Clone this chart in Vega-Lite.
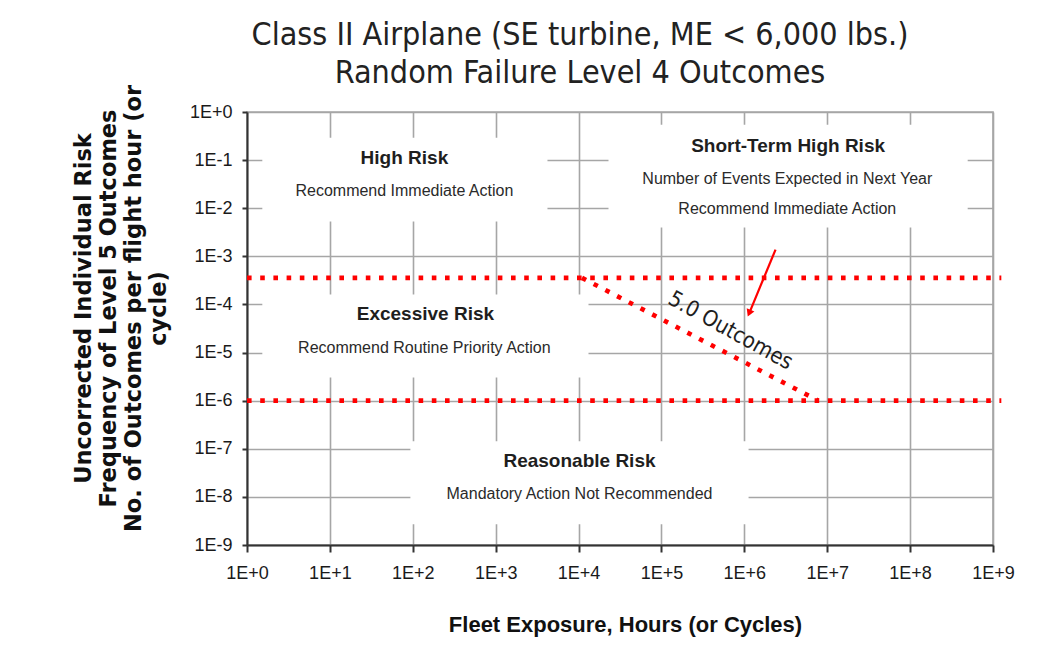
{
  "$schema": "https://vega.github.io/schema/vega-lite/v6.json",
  "width": 746,
  "height": 433,
  "autosize": "none",
  "padding": {"left": 247, "top": 112, "right": 68, "bottom": 100},
  "background": "white",
  "config": {
    "font": "Liberation Sans",
    "view": {"stroke": "#a6a6a6", "strokeWidth": 1.6}
  },
  "title": {
    "text": ["Class II Airplane (SE turbine, ME < 6,000 lbs.)", "Random Failure Level 4 Outcomes"],
    "font": "DejaVu Sans Condensed",
    "fontSize": 32,
    "fontWeight": "normal",
    "color": "#222222",
    "anchor": "middle",
    "dx": -40,
    "lineHeight": 38,
    "offset": -9
  },
  "datasets": {
    "boxes": [
      {"x": 1.53, "x2": 4217, "y": 0.292, "y2": 0.00527},
      {"x": 22970, "x2": 495000000, "y": 0.545, "y2": 0.00396},
      {"x": 1.53, "x2": 13180, "y": 0.000161, "y2": 0.00000304},
      {"x": 93.6, "x2": 1125000, "y": 0.000000143, "y2": 0.0000000027}
    ],
    "redLines": [
      {"x": 1, "x2": 1260000000, "y": 0.000357, "y2": 0.000357},
      {"x": 1, "x2": 1260000000, "y": 0.000001, "y2": 0.000001},
      {"x": 11000, "x2": 7800000, "y": 0.000357, "y2": 0.000001}
    ],
    "arrowShaft": [
      {"x": 2380000, "x2": 1170000, "y": 0.00138, "y2": 0.000072}
    ],
    "arrowHead": [
      {"x": 1158000, "y": 0.0000697}
    ],
    "boldText": [
      {"x": 79.2, "y": 0.0845, "t": "High Risk"},
      {"x": 3370000, "y": 0.145, "t": "Short-Term High Risk"},
      {"x": 142, "y": 0.0000471, "t": "Excessive Risk"},
      {"x": 10260, "y": 0.0000000426, "t": "Reasonable Risk"}
    ],
    "regularText": [
      {"x": 79.2, "y": 0.0177, "t": "Recommend Immediate Action"},
      {"x": 3300000, "y": 0.0325, "t": "Number of Events Expected in Next Year"},
      {"x": 3300000, "y": 0.00773, "t": "Recommend Immediate Action"},
      {"x": 138, "y": 0.00001, "t": "Recommend Routine Priority Action"},
      {"x": 10260, "y": 0.0000000092, "t": "Mandatory Action Not Recommended"}
    ],
    "curveLabel": [
      {"x": 683000, "y": 0.0000288, "t": "5.0 Outcomes"}
    ]
  },
  "encoding": {
    "x": {
      "field": "x",
      "type": "quantitative",
      "scale": {"type": "log", "domain": [1, 1000000000], "nice": false},
      "axis": {
        "values": [1, 10, 100, 1000, 10000, 100000, 1000000, 10000000, 100000000, 1000000000],
        "labelExpr": "'1E' + (datum.value >= 1 ? '+' : '') + round(log(datum.value) / LN10)",
        "grid": true,
        "gridColor": "#a6a6a6",
        "gridWidth": 1.6,
        "domainColor": "#333333",
        "domainWidth": 2,
        "tickColor": "#333333",
        "tickWidth": 2,
        "tickSize": 7,
        "labelFont": "Liberation Sans",
        "labelFontSize": 18,
        "labelColor": "#1a1a1a",
        "labelPadding": 12,
        "labelFlush": false,
        "labelOverlap": false,
        "title": "Fleet Exposure,  Hours  (or  Cycles)",
        "titleFont": "Liberation Sans",
        "titleFontWeight": "bold",
        "titleFontSize": 22,
        "titleColor": "#111111",
        "titleAlign": "center",
        "titleBaseline": "alphabetic",
        "titleX": 378,
        "titleY": 86
      }
    },
    "y": {
      "field": "y",
      "type": "quantitative",
      "scale": {"type": "log", "domain": [0.000000001, 1], "nice": false},
      "axis": {
        "values": [0.000000001, 0.00000001, 0.0000001, 0.000001, 0.00001, 0.0001, 0.001, 0.01, 0.1, 1],
        "labelExpr": "'1E' + (datum.value >= 1 ? '+' : '') + round(log(datum.value) / LN10)",
        "grid": true,
        "gridColor": "#a6a6a6",
        "gridWidth": 1.6,
        "domainColor": "#333333",
        "domainWidth": 2,
        "tickColor": "#333333",
        "tickWidth": 2,
        "tickSize": 5,
        "labelFont": "Liberation Sans",
        "labelFontSize": 18,
        "labelColor": "#1a1a1a",
        "labelPadding": 10,
        "labelFlush": false,
        "labelOverlap": false,
        "title": ["Uncorrected Individual Risk", "Frequency of Level 5 Outcomes", "No. of Outcomes  per flight hour (or", "cycle)"],
        "titleFont": "DejaVu Sans",
        "titleFontWeight": "bold",
        "titleFontSize": 22.5,
        "titleColor": "#111111",
        "titleAngle": -90,
        "titleAlign": "center",
        "titleBaseline": "top",
        "titleLineHeight": 25,
        "titleX": -174.5,
        "titleY": 196
      }
    }
  },
  "layer": [
    {
      "data": {"name": "boxes"},
      "mark": {"type": "rect", "fill": "white", "stroke": null},
      "encoding": {"x2": {"field": "x2"}, "y2": {"field": "y2"}}
    },
    {
      "data": {"name": "redLines"},
      "mark": {"type": "rule", "color": "#ff0000", "strokeWidth": 4.6, "strokeDash": [4.6, 8.6], "strokeCap": "butt"},
      "encoding": {"x2": {"field": "x2"}, "y2": {"field": "y2"}}
    },
    {
      "data": {"name": "arrowShaft"},
      "mark": {"type": "rule", "color": "#ff0000", "strokeWidth": 2.2},
      "encoding": {"x2": {"field": "x2"}, "y2": {"field": "y2"}}
    },
    {
      "data": {"name": "arrowHead"},
      "mark": {"type": "point", "shape": "triangle", "filled": true, "color": "#ff0000", "size": 70, "angle": 203, "opacity": 1}
    },
    {
      "data": {"name": "boldText"},
      "mark": {"type": "text", "font": "Liberation Sans", "fontWeight": "bold", "fontSize": 19, "align": "center", "baseline": "alphabetic", "color": "#1e1e1e"},
      "encoding": {"text": {"field": "t"}}
    },
    {
      "data": {"name": "regularText"},
      "mark": {"type": "text", "font": "Liberation Sans", "fontSize": 16, "align": "center", "baseline": "alphabetic", "color": "#2a2a2a"},
      "encoding": {"text": {"field": "t"}}
    },
    {
      "data": {"name": "curveLabel"},
      "mark": {"type": "text", "font": "DejaVu Sans Condensed", "fontSize": 22, "align": "center", "baseline": "middle", "angle": 29, "color": "#1e1e1e"},
      "encoding": {"text": {"field": "t"}}
    }
  ]
}
